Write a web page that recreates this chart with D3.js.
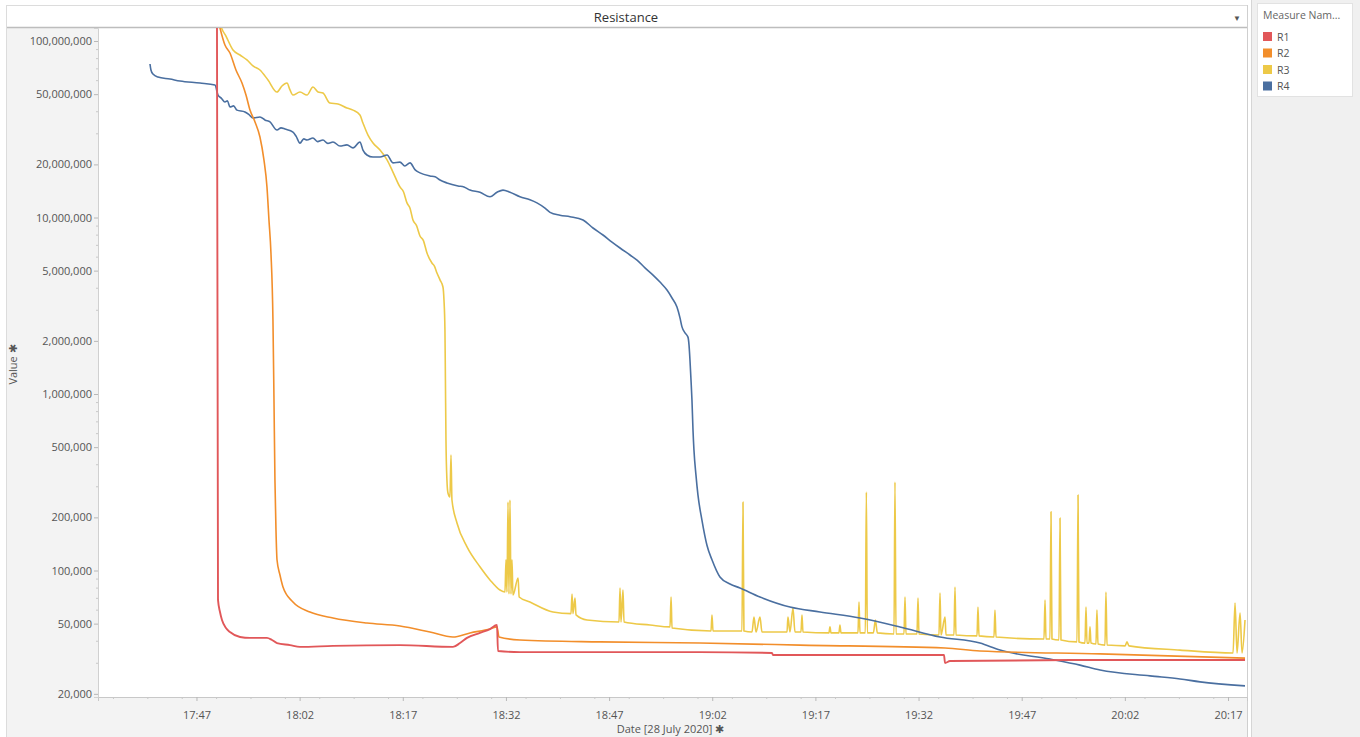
<!DOCTYPE html>
<html>
<head>
<meta charset="utf-8">
<script src="https://cdn.jsdelivr.net/npm/d3@7"></script>
<style>
  html, body { margin: 0; padding: 0; background: #ffffff; }
  svg { display: block; font-family: "Open Sans", "Noto Sans", sans-serif; }
</style>
</head>
<body>
<svg id="chart" width="1360" height="737"></svg>
<script>
// ---------------- DATA (time = minutes after 17:00 on 28 July 2020, value = resistance) ----------------
const chartTitle = "Resistance";
const yAxisTitle = "Value";
const xAxisTitle = "Date [28 July 2020]";
const legendTitle = "Measure Nam...";
const seriesNames = ["R1", "R2", "R3", "R4"];
const seriesColors = ["#e15759", "#f28e2b", "#edc948", "#4a6fa0"];
const xTickLabels = ["17:47", "18:02", "18:17", "18:32", "18:47", "19:02", "19:17", "19:32", "19:47", "20:02", "20:17"];
const yTickValues = [20000, 50000, 100000, 200000, 500000, 1000000, 2000000, 5000000, 10000000, 20000000, 50000000, 100000000];

const r1 = [
  [49.98, 128e6], [50.13, 68.1e3], [50.42, 58.2e3], [50.71, 52.4e3], [51.29, 47.2e3], [51.87, 44.8e3],
  [53.33, 42.0e3], [54.78, 41.5e3], [57.25, 41.5e3], [57.98, 40.4e3], [58.71, 38.8e3], [60.60, 37.8e3],
  [62.05, 36.9e3], [66.85, 37.4e3], [76.59, 37.8e3], [84.30, 36.9e3], [85.32, 38.8e3], [86.34, 41.5e3],
  [88.22, 44.3e3], [89.68, 46.6e3], [90.70, 49.1e3], [90.84, 35.0e3], [94.04, 34.5e3], [105.68, 34.5e3],
  [120.21, 34.5e3], [130.69, 34.1e3], [130.83, 33.2e3], [155.70, 33.2e3], [155.85, 29.9e3], [156.57, 30.7e3],
  [178.39, 31.1e3], [199.47, 31.1e3]
];

const r2 = [
  [50.27, 125e6], [51.14, 94.9e6], [51.87, 85.5e6], [52.74, 68.5e6], [53.62, 57.8e6], [54.20, 49.4e6],
  [54.78, 40.6e6], [55.51, 34.8e6], [56.23, 28.6e6], [56.81, 21.2e6], [57.25, 14.9e6], [57.54, 9.68e6],
  [57.83, 6.29e6], [58.12, 2.63e6], [58.27, 925e3], [58.41, 326e3], [58.56, 170e3], [58.71, 115e3],
  [59.14, 94.3e3], [59.58, 80.7e3], [61.03, 66.3e3], [63.50, 58.2e3], [66.85, 53.8e3], [71.79, 50.4e3],
  [76.59, 48.5e3], [80.95, 44.8e3], [84.30, 42.0e3], [86.77, 44.3e3], [89.68, 46.6e3], [90.70, 47.9e3],
  [90.99, 42.0e3], [94.04, 40.4e3], [105.68, 39.4e3], [120.21, 38.8e3], [134.76, 37.8e3], [155.85, 36.4e3],
  [160.93, 35.0e3], [178.39, 33.7e3], [199.47, 31.9e3]
];

const r3 = [
  [50.42, 128e6], [50.56, 121.6e6], [51.29, 106.7e6], [52.31, 88.9e6], [53.33, 83.3e6], [54.34, 78.1e6],
  [55.22, 72.2e6], [56.23, 68.5e6], [57.40, 60.1e6], [58.71, 51.4e6], [59.43, 55.6e6], [60.16, 57.8e6],
  [60.60, 52.8e6], [61.03, 49.4e6], [62.05, 51.4e6], [63.07, 49.4e6], [63.94, 54.9e6], [64.67, 51.4e6],
  [65.39, 50.7e6], [66.41, 44.5e6], [67.58, 44.0e6], [68.88, 41.7e6], [69.76, 40.6e6], [70.77, 38.1e6],
  [71.21, 34.3e6], [71.94, 29.3e6], [72.67, 26.4e6], [73.69, 24.1e6], [74.71, 21.2e6], [75.57, 18.1e6],
  [76.59, 14.9e6], [77.10, 14.0e6], [77.61, 12.1e6], [78.05, 11.3e6], [78.48, 9.68e6], [79.00, 9.0e6],
  [79.50, 7.86e6], [80.00, 7.4e6], [80.52, 6.29e6], [81.24, 5.52e6], [81.60, 5.3e6], [81.97, 4.85e6],
  [82.41, 4.43e6], [82.84, 4.04e6], [82.99, 3.41e6], [83.13, 2.31e6], [83.20, 1.20e6], [83.28, 549e3],
  [83.42, 326e3], [83.57, 275e3], [83.86, 261e3], [84.01, 451e3], [84.15, 251e3], [84.88, 186e3],
  [86.34, 136e3], [88.22, 105e3], [89.68, 88.4e3], [91.13, 77.5e3], [91.86, 75.5e3], [92.01, 115e3],
  [92.15, 75.5e3], [92.30, 244e3], [92.44, 73.6e3], [92.59, 251e3], [92.73, 73.6e3], [92.88, 115e3],
  [93.02, 72.7e3], [93.77, 90.7e3], [93.92, 70.8e3], [95.49, 66.3e3], [98.84, 58.2e3], [101.46, 57.0e3],
  [101.61, 73.6e3], [101.75, 57.0e3], [102.04, 69.9e3], [102.19, 56.0e3], [103.79, 52.4e3], [108.44, 51.1e3],
  [108.59, 79.6e3], [108.73, 51.1e3], [109.02, 77.5e3], [109.17, 51.1e3], [112.95, 49.1e3], [115.86, 47.9e3],
  [116.01, 70.8e3], [116.15, 47.2e3], [121.82, 45.4e3], [121.96, 56.0e3], [122.11, 45.4e3], [126.32, 45.4e3],
  [126.47, 244e3], [126.61, 45.4e3], [127.78, 44.8e3], [128.07, 54.5e3], [128.36, 44.8e3], [128.94, 54.5e3],
  [129.23, 44.8e3], [132.87, 44.8e3], [133.01, 54.5e3], [133.30, 44.8e3], [133.74, 61.3e3], [134.03, 44.8e3],
  [134.90, 44.8e3], [135.05, 56.0e3], [135.19, 44.8e3], [138.97, 44.3e3], [139.12, 47.9e3], [139.26, 44.3e3],
  [140.42, 44.3e3], [140.57, 49.1e3], [140.72, 44.3e3], [143.19, 44.3e3], [143.34, 66.3e3], [143.48, 44.3e3],
  [144.26, 44.3e3], [144.41, 278e3], [144.55, 44.3e3], [145.43, 44.3e3], [145.72, 52.4e3], [146.01, 44.3e3],
  [148.43, 43.7e3], [148.57, 317e3], [148.72, 43.7e3], [149.88, 43.7e3], [150.03, 70.8e3], [150.17, 43.7e3],
  [151.77, 43.7e3], [151.92, 69.9e3], [152.06, 43.7e3], [154.97, 43.1e3], [155.12, 74.6e3], [155.26, 43.1e3],
  [155.85, 54.5e3], [155.99, 43.1e3], [157.15, 43.1e3], [157.30, 80.7e3], [157.44, 43.1e3], [160.50, 42.6e3],
  [160.64, 62.1e3], [160.79, 42.6e3], [162.97, 42.0e3], [163.11, 59.7e3], [163.26, 42.0e3], [170.24, 40.9e3],
  [170.39, 68.1e3], [170.53, 40.9e3], [171.11, 40.9e3], [171.26, 215e3], [171.40, 40.9e3], [172.42, 40.4e3],
  [172.57, 198e3], [172.71, 40.4e3], [175.04, 39.4e3], [175.19, 268e3], [175.33, 39.4e3], [176.20, 38.8e3],
  [176.35, 62.1e3], [176.49, 38.8e3], [176.78, 38.8e3], [176.93, 47.9e3], [177.07, 38.8e3], [177.80, 38.3e3],
  [177.94, 59.7e3], [178.09, 38.3e3], [179.11, 37.8e3], [179.25, 75.5e3], [179.40, 37.8e3], [182.02, 37.4e3],
  [182.31, 39.4e3], [182.60, 37.4e3], [190.02, 35.4e3], [197.73, 34.1e3], [198.02, 65.5e3], [198.31, 34.1e3],
  [198.75, 57.4e3], [199.04, 34.1e3], [199.47, 52.4e3]
];

const r4 = [
  [40.24, 74.1e6], [40.38, 68.5e6], [40.67, 65.0e6], [41.40, 62.5e6], [43.14, 60.9e6], [44.60, 59.3e6],
  [47.51, 57.8e6], [49.69, 56.3e6], [50.13, 49.4e6], [50.60, 47.5e6], [51.14, 45.1e6], [51.50, 45.8e6],
  [51.87, 42.3e6], [52.40, 42.9e6], [52.89, 40.6e6], [54.05, 39.6e6], [54.60, 38.4e6], [55.22, 36.6e6],
  [56.23, 37.1e6], [57.00, 35.6e6], [57.69, 34.8e6], [58.71, 31.3e6], [59.30, 32.2e6], [59.87, 31.7e6],
  [61.03, 30.5e6], [61.50, 28.8e6], [62.05, 26.4e6], [62.60, 27.9e6], [63.07, 27.5e6], [63.94, 28.2e6],
  [64.60, 26.9e6], [65.39, 27.5e6], [66.10, 26.3e6], [66.85, 26.8e6], [67.87, 25.4e6], [68.88, 25.8e6],
  [69.76, 24.8e6], [70.77, 26.8e6], [71.21, 24.1e6], [71.79, 22.6e6], [72.67, 22.0e6], [73.69, 22.0e6],
  [74.71, 22.6e6], [75.57, 20.4e6], [76.59, 20.6e6], [77.30, 19.6e6], [78.05, 20.4e6], [78.80, 18.6e6],
  [79.50, 17.9e6], [80.95, 17.2e6], [81.70, 17.0e6], [82.41, 16.3e6], [83.42, 15.7e6], [85.03, 15.1e6],
  [85.90, 14.9e6], [86.77, 14.3e6], [88.22, 13.9e6], [89.68, 13.1e6], [90.70, 13.9e6], [91.57, 14.3e6],
  [92.59, 13.9e6], [94.04, 13.1e6], [95.49, 12.6e6], [96.51, 12.1e6], [97.68, 11.3e6], [98.41, 10.7e6],
  [99.86, 10.3e6], [101.32, 10.1e6], [103.21, 9.68e6], [104.66, 8.72e6], [106.11, 7.96e6], [107.42, 7.26e6],
  [108.59, 6.72e6], [110.04, 6.13e6], [111.06, 5.74e6], [112.22, 5.18e6], [113.39, 4.72e6], [114.40, 4.31e6],
  [115.42, 3.88e6], [116.15, 3.50e6], [116.87, 3.11e6], [117.31, 2.70e6], [117.60, 2.40e6], [118.04, 2.22e6],
  [118.47, 2.10e6], [118.62, 1.90e6], [118.76, 1.56e6], [118.91, 1.20e6], [119.05, 925e3], [119.20, 625e3],
  [119.34, 482e3], [119.63, 348e3], [119.92, 268e3], [120.50, 193e3], [121.23, 139e3], [121.96, 115e3],
  [123.12, 91.9e3], [124.58, 83.9e3], [126.03, 79.6e3], [128.94, 70.8e3], [133.30, 62.1e3], [137.67, 58.2e3],
  [143.48, 53.8e3], [149.30, 47.9e3], [155.12, 42.0e3], [160.93, 38.8e3], [163.84, 35.4e3], [171.11, 31.5e3],
  [175.48, 29.1e3], [178.39, 27.3e3], [185.66, 25.3e3], [190.02, 24.3e3], [192.93, 23.4e3], [199.47, 22.2e3]
];

const seriesData = [r1, r2, r3, r4];
const drawOrder = [2, 3, 1, 0];

// ---------------- LAYOUT ----------------
const svg = d3.select("#chart");
const W = 1360, H = 737;
const plot = { left: 98, right: 1247, top: 28, bottom: 697 };
const BASE = new Date(2020, 6, 28, 17, 0, 0);
const toDate = m => new Date(BASE.getTime() + m * 60000);
const parseHM = d3.timeParse("%Y-%m-%d %H:%M");

const x = d3.scaleTime()
  .domain([toDate(32.68), toDate(199.76)])
  .range([plot.left, plot.right]);
const y = d3.scaleLog()
  .domain([19200, 118.5e6])
  .range([plot.bottom, plot.top]);

// backgrounds
svg.append("rect").attr("x", 0).attr("y", 0).attr("width", W).attr("height", H).attr("fill", "#ffffff");
svg.append("rect").attr("x", 6).attr("y", plot.top).attr("width", plot.left - 6).attr("height", H - plot.top).attr("fill", "#f3f3f3");
svg.append("rect").attr("x", 6).attr("y", plot.bottom).attr("width", plot.right - 6).attr("height", H - plot.bottom).attr("fill", "#f3f3f3");
svg.append("rect").attr("x", 1251).attr("y", 0).attr("width", W - 1251).attr("height", H).attr("fill", "#f0f0f0");
svg.append("rect").attr("x", 6).attr("y", 5).attr("width", plot.right - 6).attr("height", plot.top - 5).attr("fill", "#ffffff");
svg.append("line").attr("x1", 6).attr("x2", plot.right).attr("y1", 5.5).attr("y2", 5.5).attr("stroke", "#dcdcdc");
svg.append("line").attr("x1", 6).attr("x2", plot.right).attr("y1", plot.top - 0.5).attr("y2", plot.top - 0.5).attr("stroke", "#bdbdbd").attr("stroke-width", 1.5);
svg.append("line").attr("x1", 6.5).attr("x2", 6.5).attr("y1", 5).attr("y2", H).attr("stroke", "#dcdcdc");
svg.append("line").attr("x1", plot.right + 0.5).attr("x2", plot.right + 0.5).attr("y1", 5).attr("y2", H).attr("stroke", "#cfcfcf");
svg.append("line").attr("x1", 1251.5).attr("x2", 1251.5).attr("y1", 0).attr("y2", H).attr("stroke", "#d6d6d6");

svg.append("text").attr("x", 626).attr("y", 22).attr("text-anchor", "middle")
  .attr("font-size", 13).attr("fill", "#333").text(chartTitle);
svg.append("text").attr("x", 1237).attr("y", 21).attr("text-anchor", "middle")
  .attr("font-size", 8).attr("fill", "#555").text("▼");

// ---------------- AXES ----------------
const minorY = [];
for (let p = 4; p <= 8; p++) for (let k = 1; k <= 9; k++) {
  const v = k * Math.pow(10, p);
  if (v >= y.domain()[0] && v <= y.domain()[1] && !yTickValues.includes(v)) minorY.push(v);
}
const gYm = svg.append("g").attr("transform", `translate(${plot.left},0)`)
  .call(d3.axisLeft(y).tickValues(minorY).tickSize(2).tickFormat(""));
gYm.select(".domain").remove();
gYm.selectAll("line").attr("stroke", "#c8c8c8");

const gY = svg.append("g").attr("transform", `translate(${plot.left},0)`)
  .call(d3.axisLeft(y).tickValues(yTickValues).tickSize(4).tickPadding(2).tickFormat(d3.format(",")));
gY.select(".domain").attr("stroke", "#d0d0d0");
gY.selectAll(".tick line").attr("stroke", "#b8b8b8");
gY.selectAll(".tick text").attr("font-size", 11).attr("fill", "#555").attr("font-family", "'Open Sans', sans-serif");

const xTicks = xTickLabels.map(s => parseHM("2020-07-28 " + s));
const minorX = d3.timeMinute.every(5).range(toDate(33), toDate(200));
const gXm = svg.append("g").attr("transform", `translate(0,${plot.bottom})`)
  .call(d3.axisBottom(x).tickValues(minorX.filter(d => d >= toDate(32.7))).tickSize(2).tickFormat(""));
gXm.select(".domain").remove();
gXm.selectAll("line").attr("stroke", "#c8c8c8").attr("transform", "translate(-1,0)");

const gX = svg.append("g").attr("transform", `translate(0,${plot.bottom})`)
  .call(d3.axisBottom(x).tickValues(xTicks).tickSize(4).tickPadding(10).tickFormat(d3.timeFormat("%H:%M")));
gX.select(".domain").attr("stroke", "#c8c8c8");
gX.selectAll(".tick line").attr("stroke", "#b8b8b8");
gX.selectAll(".tick text").attr("font-size", 11).attr("fill", "#555").attr("font-family", "'Open Sans', sans-serif");

svg.append("text")
  .attr("transform", `translate(17,${(plot.top + plot.bottom) / 2 + 2}) rotate(-90)`)
  .attr("text-anchor", "middle").attr("font-size", 11).attr("fill", "#555")
  .text(yAxisTitle + " ✱");
svg.append("text").attr("x", (plot.left + plot.right) / 2 - 2).attr("y", 733)
  .attr("text-anchor", "middle").attr("font-size", 11).attr("fill", "#555")
  .text(xAxisTitle + " ✱");

// ---------------- LINES ----------------
svg.append("clipPath").attr("id", "clip").append("rect")
  .attr("x", plot.left).attr("y", plot.top).attr("width", plot.right - plot.left).attr("height", plot.bottom - plot.top);
const line = d3.line().curve(d3.curveMonotoneX).x(d => x(toDate(d[0]))).y(d => y(d[1]));
const gLines = svg.append("g").attr("clip-path", "url(#clip)");
drawOrder.forEach(i => {
  gLines.append("path")
    .datum(seriesData[i])
    .attr("d", line)
    .attr("fill", "none")
    .attr("stroke", seriesColors[i])
    .attr("stroke-width", i === 0 ? 1.9 : 1.6)
    .attr("stroke-linejoin", "round");
});

// ---------------- LEGEND ----------------
const lg = svg.append("g").attr("transform", "translate(1257,3)");
lg.append("rect").attr("x", 0.5).attr("y", 0.5).attr("width", 95).attr("height", 93)
  .attr("fill", "#ffffff").attr("stroke", "#e2e2e2");
lg.append("text").attr("x", 6).attr("y", 16).attr("font-size", 10.5).attr("fill", "#666").text(legendTitle);
seriesNames.forEach((n, i) => {
  const gy = 29 + i * 16.5;
  lg.append("rect").attr("x", 6).attr("y", gy).attr("width", 9).attr("height", 9).attr("fill", seriesColors[i]);
  lg.append("text").attr("x", 20).attr("y", gy + 8.5).attr("font-size", 10.5).attr("fill", "#555").text(n);
});
</script>
</body>
</html>
